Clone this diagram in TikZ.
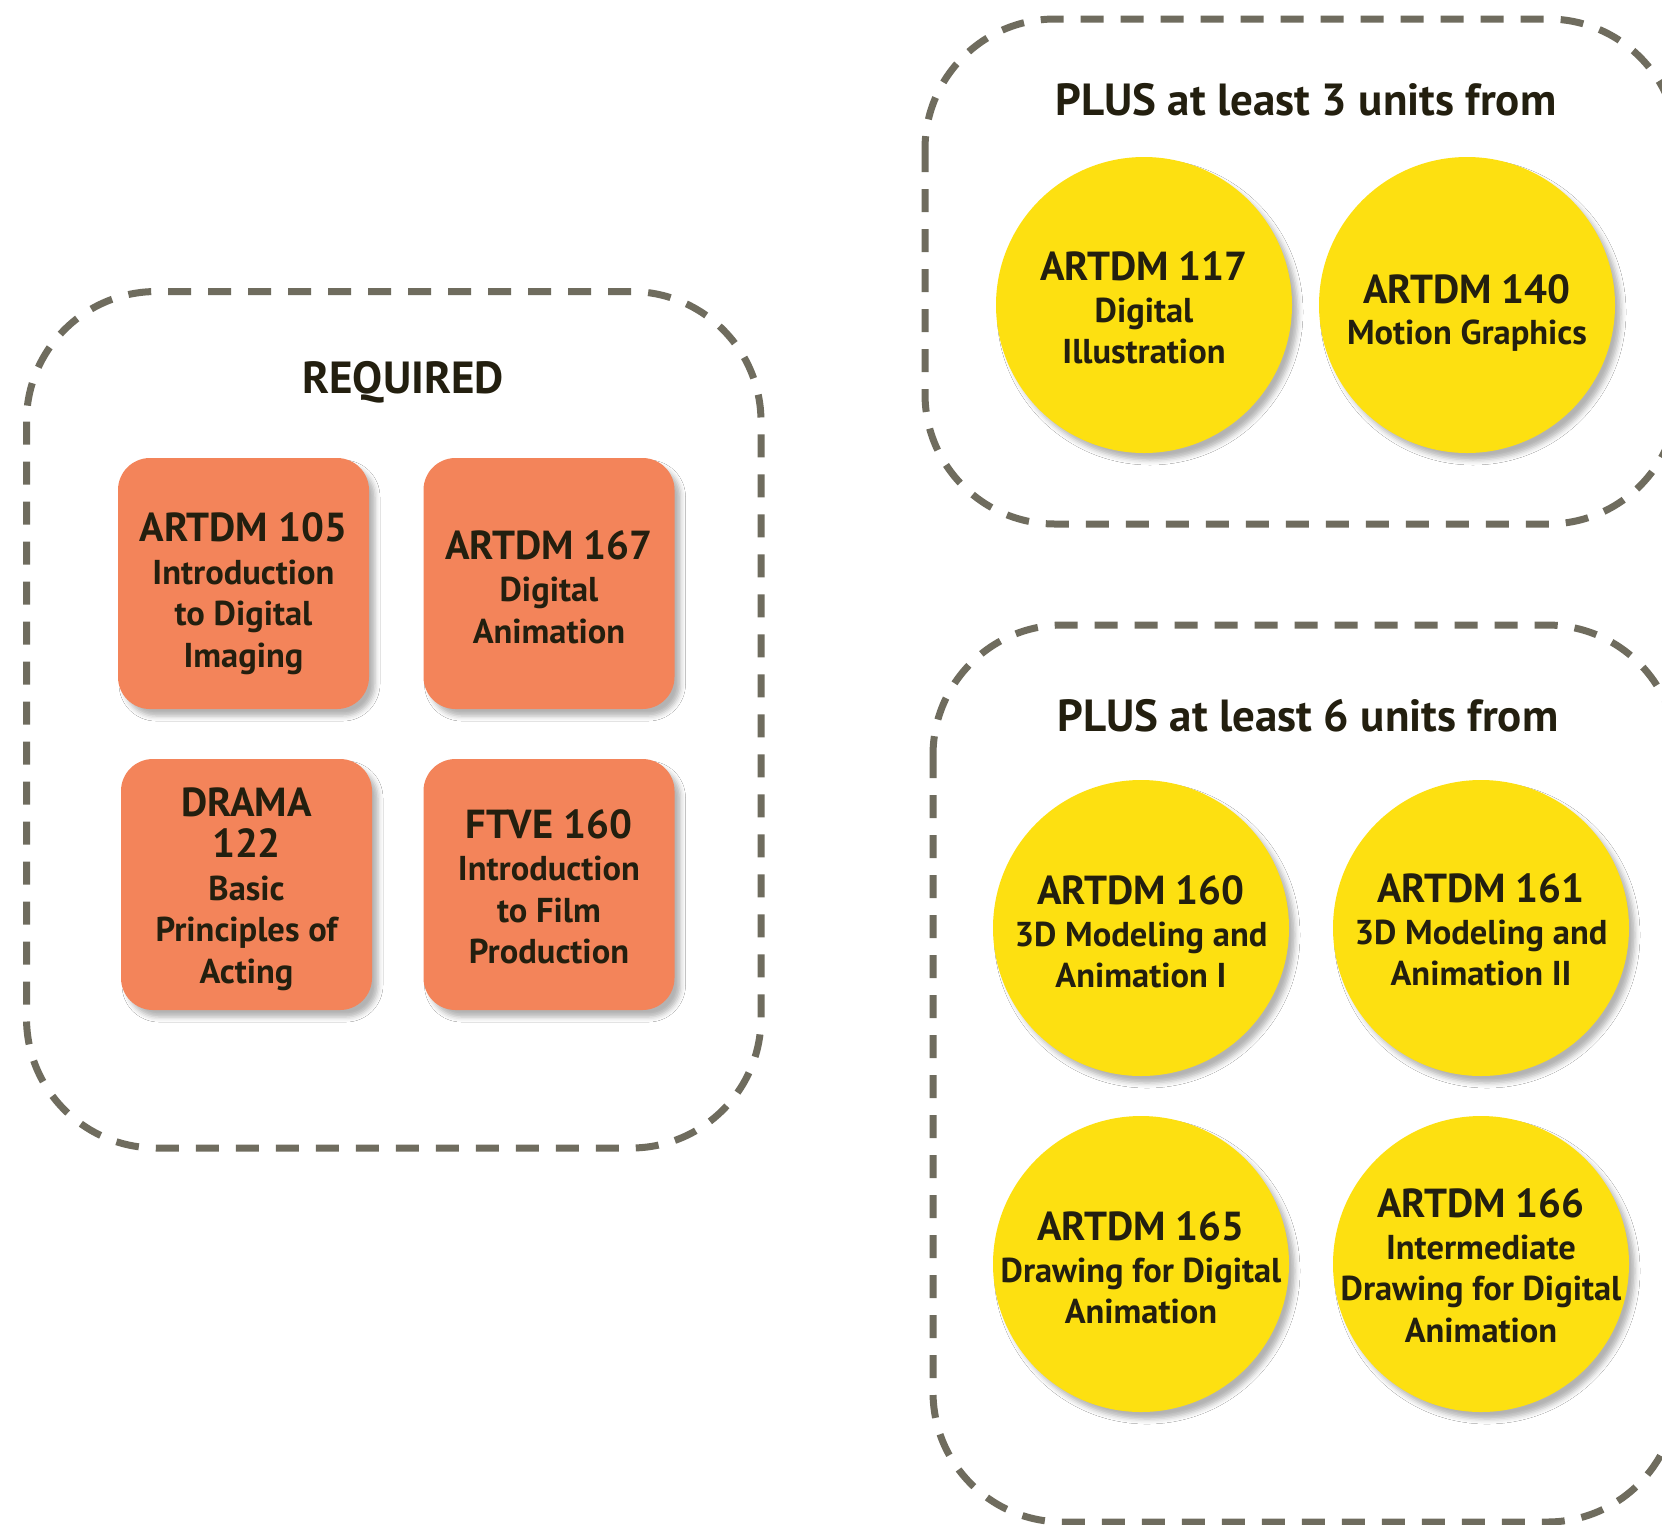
\documentclass[tikz,border=0pt]{standalone}
\usepackage{fontspec}
\setmainfont{PT Sans}
\usetikzlibrary{shadows.blur}
\definecolor{orangebox}{HTML}{F3845A}
\definecolor{yellowc}{HTML}{FDE011}
\definecolor{dashgray}{HTML}{6F6C5E}
\definecolor{inkc}{HTML}{231F0F}
\newcommand{\hfnt}{\fontsize{45}{48}\selectfont\bfseries}
\newcommand{\tfnt}{\fontsize{40.5}{44}\selectfont\bfseries}
\newcommand{\bfnt}{\fontsize{34.5}{41.5}\selectfont\bfseries}
\tikzset{
  groupbox/.style={draw=dashgray, line width=7pt, dash pattern=on 23pt off 17pt, rounded corners=130pt},
  myshadow/.style={blur shadow={shadow xshift=6pt, shadow yshift=-7pt, shadow blur radius=5pt, shadow opacity=30}},
  coursebox/.style={fill=orangebox, rounded corners=32pt, minimum width=251pt, minimum height=251pt,
    inner sep=0pt, myshadow},
  coursecirc/.style={circle, fill=yellowc, minimum size=296pt, inner sep=0pt, myshadow},
  coursetext/.style={align=center, text=inkc, inner sep=0pt, font=\bfnt},
  heading/.style={font=\hfnt, text=inkc}
}
\begin{document}
\begin{tikzpicture}[x=1pt, y=-1pt]
\useasboundingbox (0,0) rectangle (1662,1524);
\clip (0,0) rectangle (1662,1524);
\fill[white] (0,0) rectangle (1662,1524);

% group frames
\draw[groupbox] (26.5,291.5) rectangle (761,1148);
\draw[groupbox] (925,19) rectangle (1678,524);
\draw[groupbox] (933,625) rectangle (1677,1522);

% headings
\node[heading] (req) at (403,382) {REQUIRED};
\node[heading] (plus3) at (1306,100) {PLUS at least 3 units from};
\node[heading] (plus6) at (1308,716) {PLUS at least 6 units from};

% required courses
\node[coursebox] (a105) at (243.5,583.5) {};
\node[coursebox] (a167) at (549,583.5) {};
\node[coursebox] (d122) at (246.5,884.5) {};
\node[coursebox] (f160) at (549,884.5) {};
\node[coursetext] (a105t) at (243.5,593.5) {{\tfnt ARTDM 105}\\[1pt]Introduction\\to Digital\\Imaging};
\node[coursetext] (a167t) at (549,587) {{\tfnt ARTDM 167}\\[1pt]Digital\\Animation};
\node[coursetext] (d122t) at (246.5,889) {{\tfnt DRAMA}\\{\tfnt 122}\\[1pt]Basic\\Principles of\\Acting};
\node[coursetext] (f160t) at (549,887) {{\tfnt FTVE 160}\\[1pt]Introduction\\to Film\\Production};

% 3-unit choices
\node[coursecirc] (a117) at (1144,305) {};
\node[coursecirc] (a140) at (1467,305) {};
\node[coursetext] (a117t) at (1144,308) {{\tfnt ARTDM 117}\\[0pt]Digital\\Illustration};
\node[coursetext] (a140t) at (1467,313) {{\tfnt ARTDM 140}\\[0pt]Motion Graphics};

% 6-unit choices
\node[coursecirc] (a160) at (1141,928) {};
\node[coursecirc] (a161) at (1481,928) {};
\node[coursecirc] (a165) at (1141,1264) {};
\node[coursecirc] (a166) at (1481,1264) {};
\node[coursetext] (a160t) at (1141,932) {{\tfnt ARTDM 160}\\[0pt]3D Modeling and\\Animation I};
\node[coursetext] (a161t) at (1481,930) {{\tfnt ARTDM 161}\\[0pt]3D Modeling and\\Animation II};
\node[coursetext] (a165t) at (1141,1268) {{\tfnt ARTDM 165}\\[0pt]Drawing for Digital\\Animation};
\node[coursetext] (a166t) at (1481,1266) {{\tfnt ARTDM 166}\\[0pt]Intermediate\\Drawing for Digital\\Animation};
\end{tikzpicture}
\end{document}
